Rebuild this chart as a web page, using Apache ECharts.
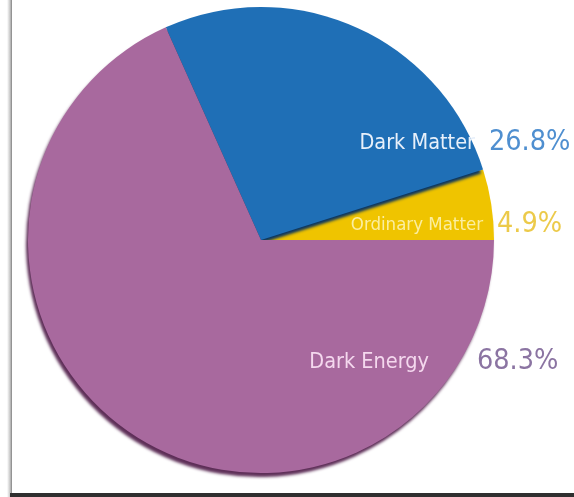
<!DOCTYPE html>
<html>
<head>
<meta charset="utf-8">
<script src="https://cdn.jsdelivr.net/npm/echarts@6/dist/echarts.min.js"></script>
<style>
  html, body { margin: 0; padding: 0; background: #ffffff; }
  #chart { width: 574px; height: 497px; }
</style>
</head>
<body>
<div id="chart"></div>
<script>
// Composition of the universe (percent of total mass-energy)
const components = ['Ordinary Matter', 'Dark Matter', 'Dark Energy'];
const shares = [4.9, 26.8, 68.3];

const sliceColors = ['#efc400', '#1f6fb6', '#a8699e'];
const sideColors = ['#7a6400', '#0c3660', '#5e2f58'];
const nameColors = ['#fbeea0', '#e8f0fa', '#f4d8ee'];
const pctColors = ['#ecca4a', '#4f8fd0', '#8b74a2'];
const nameSizes = [18.5, 21.5, 21.5];

// label anchors: name ends at nameX, percentage starts at pctX
const labelSpots = [
  { y: 225, nameX: 483, pctX: 497 },
  { y: 143, nameX: 475, pctX: 489 },
  { y: 362, nameX: 429, pctX: 477 }
];

const FONT = "'DejaVu Sans Condensed', 'Liberation Sans Narrow', 'DejaVu Sans', sans-serif";

const slices = components.map((name, i) => ({
  name: name,
  value: shares[i],
  itemStyle: {
    color: sliceColors[i],
    shadowColor: sideColors[i],
    shadowBlur: 3,
    shadowOffsetX: -2,
    shadowOffsetY: 4
  },
  label: { color: nameColors[i], fontSize: nameSizes[i] }
}));

const chart = echarts.init(document.getElementById('chart'), null, { renderer: 'canvas' });

chart.setOption({
  backgroundColor: '#ffffff',
  animation: false,
  graphic: [
    {
      type: 'rect',
      shape: { x: 7, y: 0, width: 5, height: 497 },
      style: {
        fill: new echarts.graphic.LinearGradient(0, 0, 1, 0, [
          { offset: 0, color: 'rgba(255,255,255,1)' },
          { offset: 0.6, color: 'rgba(200,200,200,1)' },
          { offset: 1, color: 'rgba(130,130,130,1)' }
        ])
      },
      z: 10
    },
    {
      type: 'rect',
      shape: { x: 10, y: 493, width: 564, height: 4 },
      style: { fill: '#2f2f2f' },
      z: 10
    }
  ],
  series: [
    {
      type: 'pie',
      center: [261, 240],
      radius: [0, 233],
      startAngle: 0,
      clockwise: false,
      silent: true,
      data: slices,
      label: {
        show: true,
        position: 'inside',
        fontFamily: FONT,
        formatter: (p) => p.name
      },
      labelLine: { show: false },
      labelLayout: (p) => {
        const s = labelSpots[p.dataIndex];
        return { x: s.nameX, y: s.y, align: 'right', verticalAlign: 'middle' };
      },
      z: 2
    },
    {
      type: 'pie',
      center: [261, 240],
      radius: [0, 233],
      startAngle: 0,
      clockwise: false,
      silent: true,
      data: components.map((name, i) => ({
        name: name,
        value: shares[i],
        itemStyle: { color: 'rgba(0,0,0,0)' },
        label: { color: pctColors[i] }
      })),
      label: {
        show: true,
        position: 'inside',
        fontFamily: FONT,
        fontSize: 28.5,
        formatter: (p) => p.value.toFixed(1) + '%'
      },
      labelLine: { show: false },
      labelLayout: (p) => {
        const s = labelSpots[p.dataIndex];
        return { x: s.pctX, y: s.y, align: 'left', verticalAlign: 'middle' };
      },
      z: 3
    }
  ]
});
</script>
</body>
</html>
